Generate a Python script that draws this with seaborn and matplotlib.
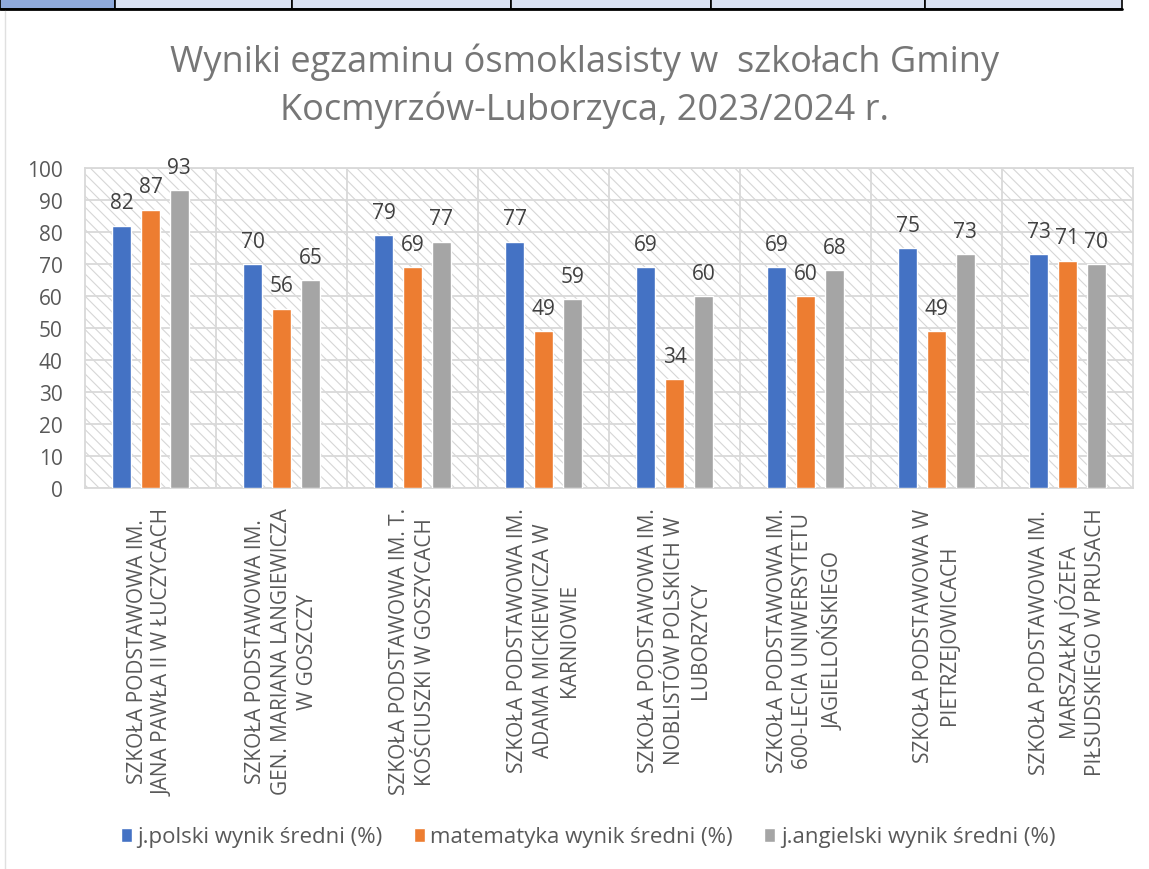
import pandas as pd
import seaborn as sns
import matplotlib.pyplot as plt
from matplotlib.patches import Rectangle

# dane
szkoly = [
    "SZKOŁA PODSTAWOWA IM.\nJANA PAWŁA II W ŁUCZYCACH",
    "SZKOŁA PODSTAWOWA IM.\nGEN. MARIANA LANGIEWICZA\nW GOSZCZY",
    "SZKOŁA PODSTAWOWA IM. T.\nKOŚCIUSZKI W GOSZYCACH",
    "SZKOŁA PODSTAWOWA IM.\nADAMA MICKIEWICZA W\nKARNIOWIE",
    "SZKOŁA PODSTAWOWA IM.\nNOBLISTÓW POLSKICH W\nLUBORZYCY",
    "SZKOŁA PODSTAWOWA IM.\n600-LECIA UNIWERSYTETU\nJAGIELLOŃSKIEGO",
    "SZKOŁA PODSTAWOWA W\nPIETRZEJOWICACH",
    "SZKOŁA PODSTAWOWA IM.\nMARSZAŁKA JÓZEFA\nPIŁSUDSKIEGO W PRUSACH",
]
przedmioty = ["j.polski wynik średni (%)", "matematyka wynik średni (%)",
              "j.angielski wynik średni (%)"]
polski = [82, 70, 79, 77, 69, 69, 75, 73]
matematyka = [87, 56, 69, 49, 34, 60, 49, 71]
angielski = [93, 65, 77, 59, 60, 68, 73, 70]
kolory = ["#4472C4", "#ED7D31", "#A5A5A5"]

df = pd.DataFrame({
    "szkola": szkoly * 3,
    "przedmiot": [p for p in przedmioty for _ in szkoly],
    "wynik": polski + matematyka + angielski,
})

sns.set_style("white")
plt.rcParams["font.family"] = ["Open Sans", "DejaVu Sans"]
plt.rcParams["hatch.linewidth"] = 0.8

fig = plt.figure(figsize=(11.49, 8.70), dpi=100)
ax = fig.add_axes([85 / 1149, 1 - 489 / 870, (1133 - 85) / 1149, (489 - 169) / 870])

# szare kreskowane tło obszaru wykresu
ax.add_patch(Rectangle((0, 0), 1, 1, transform=ax.transAxes, facecolor="white",
                       edgecolor="#D6D6D6", hatch="\\\\\\", lw=0, zorder=0))

sns.barplot(data=df, x="szkola", y="wynik", hue="przedmiot", palette=kolory,
            saturation=1, width=0.66, gap=0.32, ax=ax, zorder=3)

for cont in ax.containers:
    ax.bar_label(cont, padding=9, fontsize=15, color="#404040")

ax.set_ylim(0, 100)
ax.set_yticks(range(0, 101, 10))
ax.set_xlim(-0.5, len(szkoly) - 0.5)
ax.set_xticks(range(len(szkoly)))
ax.set_xticklabels(szkoly, rotation=90, fontsize=15, color="#595959",
                   linespacing=1.3, multialignment="center")
ax.set_xticks([i + 0.5 for i in range(len(szkoly) - 1)], minor=True)
ax.tick_params(axis="x", which="both", length=0, pad=14)
ax.tick_params(axis="y", length=0, labelsize=15, labelcolor="#595959", pad=16)
ax.set_xlabel("")
ax.set_ylabel("")
ax.grid(axis="y", color="#D9D9D9", lw=1.3, zorder=1)
ax.grid(axis="x", which="minor", color="#D9D9D9", lw=1.3, zorder=1)
ax.set_axisbelow(True)
for s in ax.spines.values():
    s.set_color("#D9D9D9")
    s.set_linewidth(1.3)

# legenda
handles, labels = ax.get_legend_handles_labels()
ax.legend_.remove()
fig.legend(handles, labels, loc="center", bbox_to_anchor=(588 / 1149, 1 - 838 / 870),
           ncol=3, frameon=False, fontsize=16, labelcolor="#595959",
           handlelength=0.5, handleheight=0.6, handletextpad=0.25, columnspacing=1.4)

# tytuł
fig.text(585 / 1149, 1 - 62 / 870, "Wyniki egzaminu ósmoklasisty w  szkołach Gminy",
         ha="center", va="center", fontsize=26, color="#767676")
fig.text(585 / 1149, 1 - 110 / 870, "Kocmyrzów-Luborzyca, 2023/2024 r.",
         ha="center", va="center", fontsize=26, color="#767676")

# fragment tabeli nad wykresem
granice = [0, 115, 292, 511, 711, 925, 1122]
for i in range(len(granice) - 1):
    kolor = "#8EA9DB" if i == 0 else "#D9E1F2"
    fig.patches.append(Rectangle((granice[i] / 1149, 1 - 10 / 870),
                                 (granice[i + 1] - granice[i]) / 1149, 10 / 870,
                                 transform=fig.transFigure, facecolor=kolor,
                                 edgecolor="black", lw=1.2))
fig.add_artist(plt.Line2D([0, 1122 / 1149], [1 - 10 / 870] * 2, color="black", lw=2,
                          transform=fig.transFigure))
fig.add_artist(plt.Line2D([5 / 1149] * 2, [0, 1 - 12 / 870], color="#E0E0E0", lw=1,
                          transform=fig.transFigure))

fig.savefig("out.png", dpi=100)
